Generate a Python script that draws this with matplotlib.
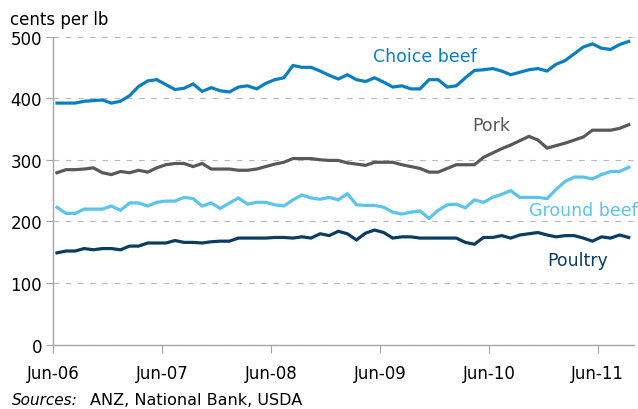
import numpy as np
import matplotlib
matplotlib.use('Agg')
import matplotlib.pyplot as plt

# monthly retail meat prices, Jun-06 .. Sep-11 (cents per lb)
choice_beef = [392, 392, 392, 395, 396, 397, 392, 395, 404, 419,
               428, 430, 422, 414, 416, 423, 411, 417, 412, 410,
               418, 420, 415, 424, 430, 433, 453, 450, 450, 444,
               437, 431, 438, 430, 427, 433, 426, 418, 420, 415,
               415, 430, 430, 418, 420, 433, 445, 446, 448, 444,
               438, 442, 446, 448, 444, 455, 461, 472, 483, 488,
               481, 479, 487, 492]
pork = [279, 284, 284, 285, 287, 279, 276, 281, 279, 283,
        280, 287, 292, 294, 294, 289, 294, 285, 285, 285,
        283, 283, 285, 289, 293, 296, 302, 302, 302, 300,
        299, 299, 295, 293, 291, 296, 296, 296, 292, 289,
        286, 280, 280, 286, 292, 292, 292, 304, 311, 318,
        324, 331, 338, 332, 319, 323, 327, 332, 337, 348,
        348, 348, 351, 357]
ground_beef = [223, 213, 213, 220, 220, 220, 225, 218, 230, 230,
               225, 231, 233, 233, 239, 237, 225, 230, 221, 230,
               238, 228, 231, 231, 227, 225, 235, 243, 238, 236,
               239, 235, 245, 227, 226, 226, 223, 215, 212, 215,
               217, 205, 218, 227, 228, 222, 235, 231, 239, 244,
               250, 239, 239, 239, 237, 252, 265, 272, 272, 269,
               276, 281, 281, 288]
poultry = [149, 152, 152, 156, 154, 156, 156, 154, 160, 160,
           165, 165, 165, 169, 166, 166, 165, 167, 168, 168,
           173, 173, 173, 173, 174, 174, 173, 175, 173, 180,
           177, 184, 180, 170, 181, 186, 182, 173, 175, 175,
           173, 173, 173, 173, 173, 166, 163, 174, 174, 177,
           173, 178, 180, 182, 178, 175, 177, 177, 173, 168,
           175, 173, 178, 174]

tick_labels = ['Jun-06', 'Jun-07', 'Jun-08', 'Jun-09', 'Jun-10', 'Jun-11']

c_choice = '#0a7fc0'
c_pork = '#595959'
c_ground = '#5cc4ec'
c_poultry = '#0b3d62'

# points sit mid-month, ticks at start of June
x = np.arange(len(choice_beef)) + 0.4

fig = plt.figure(figsize=(6.38, 4.10), dpi=100)
ax = fig.add_axes([0.0836, 0.1568, 0.9104, 0.7517])

for y, c in [(poultry, c_poultry), (ground_beef, c_ground), (pork, c_pork), (choice_beef, c_choice)]:
    ax.plot(x, y, color=c, linewidth=2.3, solid_joinstyle='miter')

ax.set_xlim(0, 64)
ax.set_ylim(0, 500)
ax.set_yticks(range(0, 501, 100))
ax.set_xticks(np.arange(0, 61, 12))
ax.set_xticklabels(tick_labels)
ax.grid(axis='y', color='#b8b8b8', linestyle=(0, (5, 6)), linewidth=0.8)
ax.set_axisbelow(True)

for s in ['top', 'right']:
    ax.spines[s].set_visible(False)
for s in ['left', 'bottom']:
    ax.spines[s].set_color('#a6a6a6')
    ax.spines[s].set_linewidth(1.0)
ax.tick_params(axis='x', colors='#a6a6a6', labelcolor='black', length=6, labelsize=12, pad=8)
ax.tick_params(axis='y', colors='#a6a6a6', labelcolor='black', length=5, labelsize=12, pad=3)

ax.text(40.9, 469, 'Choice beef', color=c_choice, fontsize=12.5, ha='center', va='center')
ax.text(48.3, 357, 'Pork', color=c_pork, fontsize=12.5, ha='center', va='center')
ax.text(58.4, 219, 'Ground beef', color=c_ground, fontsize=12.5, ha='center', va='center')
ax.text(57.8, 138, 'Poultry', color=c_poultry, fontsize=12.5, ha='center', va='center')

fig.text(0.016, 0.952, 'cents per lb', fontsize=12, ha='left', va='center')
fig.text(0.019, 0.022, 'Sources:', fontsize=11, style='italic', ha='left', va='center')
fig.text(0.141, 0.022, 'ANZ, National Bank, USDA', fontsize=11.5, ha='left', va='center')

fig.savefig('out.png', dpi=100)
